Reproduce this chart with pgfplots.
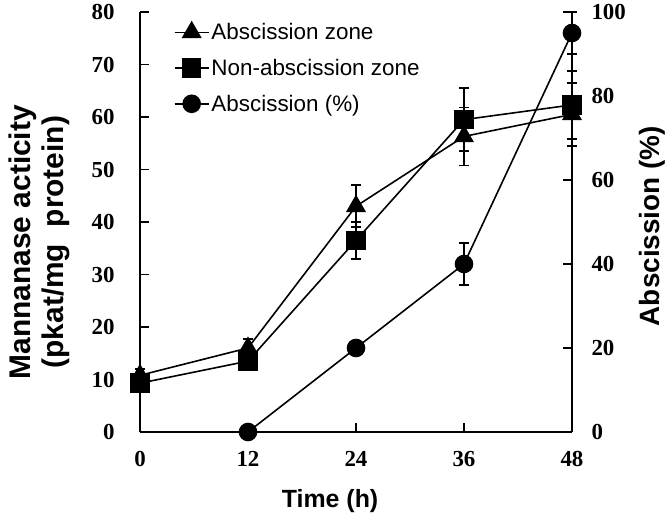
\documentclass[border=0pt]{standalone}
\usepackage{pgfplots}
\pgfplotsset{compat=1.18}
\usepackage{fontspec}
\setmainfont{Liberation Serif}
\newfontfamily\arial{Liberation Sans}

\pgfplotsset{
 common/.style={
  scale only axis, width=432bp, height=420bp,
  xmin=0, xmax=48,
  axis line style={line width=1.6bp},
  tick style={line width=1.6bp, black},
  major tick length=9bp,
  tick align=inside,
  /pgf/number format/assume math mode=true,
  tick label style={font=\bfseries\fontsize{23}{23}\selectfont},
  clip=false,
 },
 ser/.style={black, line width=1.6bp, mark size=#1,
   error bars/y dir=both, error bars/y explicit,
   error bars/error bar style={line width=1.6bp, black},
   error bars/error mark options={rotate=90, mark size=5bp, line width=1.6bp, black}},
}

\begin{document}
\begin{tikzpicture}
\begin{axis}[common,
  axis x line*=bottom, axis y line*=left,
  ymin=0, ymax=80, ytick={0,10,...,80},
  xtick={0,12,24,36,48},
  yticklabel style={xshift=-22bp},
  xticklabel style={yshift=-16bp},
  ylabel={Mannanase acticity\\(pkat/mg\ \ protein)},
  ylabel style={align=center, font=\arial\bfseries\fontsize{30}{33}\selectfont,
    at={(axis description cs:-0.232,0.452)}, anchor=center},
  xlabel={Time (h)},
  xlabel style={font=\arial\bfseries\fontsize{25}{25}\selectfont,
    at={(axis description cs:0.44,-0.165)}, anchor=center},
  legend style={draw=none, fill=none, at={(axis description cs:0.078,0.978)},
    anchor=north west, font=\arial\fontsize{22.5}{22.5}\selectfont,
    row sep=14bp, inner sep=0pt,
    nodes={inner sep=2bp}},
  legend cell align=left,
  legend image code/.code={\draw[mark repeat=2,mark phase=2] plot coordinates {(0bp,0bp) (17bp,0bp) (34bp,0bp)};},
]
\addplot[ser=10bp, mark=triangle*] table[y error=e] {
x y e
0 10.8 1.2
12 16 1.7
24 43 4
36 56.3 5.5
48 60.5 6
};
\addlegendentry{Abscission zone}
\addplot[ser=9bp, mark=square*] table[y error=e] {
x y e
0 9.3 1
12 13.5 1.5
24 36.5 3.5
36 59.5 6
48 62.3 6.5
};
\addlegendentry{Non-abscission zone}
\addlegendimage{black, line width=1.6bp, mark=*, mark size=8.5bp}
\addlegendentry{Abscission (\%)}
\end{axis}
\begin{axis}[common,
  axis y line*=right, axis x line=none,
  ymin=0, ymax=100, ytick={0,20,...,100},
  yticklabel style={xshift=16bp},
  ylabel={Abscission (\%)},
  ylabel style={font=\arial\bfseries\fontsize{28}{28}\selectfont,
    at={(axis description cs:1.185,0.49)}, anchor=center},
]
\addplot[ser=8.5bp, mark=*] table[y error=e] {
x y e
12 0 0
24 20 0
36 40 5
48 95 5
};
\end{axis}
\pgfresetboundingbox
\path (-140bp,-95bp) rectangle (532bp,432bp);
\end{tikzpicture}
\end{document}
